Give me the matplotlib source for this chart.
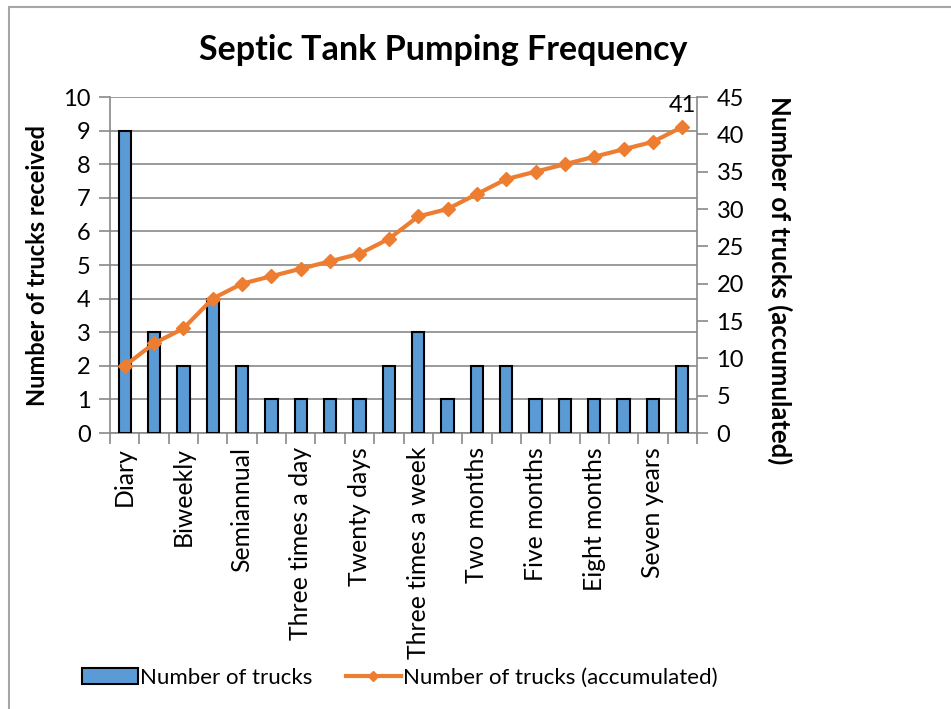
import numpy as np
import matplotlib
matplotlib.use("Agg")
import matplotlib.pyplot as plt
from matplotlib.patches import Rectangle
from matplotlib.lines import Line2D

# -------- data ----------
counts = [9, 3, 2, 4, 2, 1, 1, 1, 1, 2, 3, 1, 2, 2, 1, 1, 1, 1, 1, 2]
shown_labels = ["Diary", "Biweekly", "Semiannual", "Three times a day",
                "Twenty days", "Three times a week", "Two months",
                "Five months", "Eight months", "Seven years"]
left_ticks = list(range(0, 11))
right_ticks = list(range(0, 46, 5))

BLUE = "#5B9BD5"
ORANGE = "#ED7D31"
GRID = "#898989"

plt.rcParams["font.family"] = ["Lato", "DejaVu Sans"]

x = np.arange(len(counts))
accum = np.cumsum(counts)

fig = plt.figure(figsize=(9.51, 7.09), dpi=100)

# light frame around the chart area
fig.patches.append(Rectangle((9 / 951, -0.1), 1.2, 1.1 - 7 / 709, transform=fig.transFigure,
                             fill=False, edgecolor="#A6A6A6", linewidth=1.5))

ax = fig.add_axes([110 / 951, 1 - 433 / 709, 587 / 951, 336 / 709])
ax.bar(x, counts, width=0.42, color=BLUE, edgecolor="black", linewidth=1.5, zorder=3)
ax.set_xlim(-0.5, len(counts) - 0.5)
ax.set_ylim(0, 10)
ax.set_yticks(left_ticks)
ax.yaxis.grid(True, color=GRID, linewidth=1.2, zorder=0)
ax.set_axisbelow(True)

# category boundaries get the tick marks, every other category gets a label
ax.set_xticks(np.arange(-0.5, len(counts), 1), minor=False)
ax.set_xticklabels([])
ax.set_xticks(x[::2], minor=True)
ax.set_xticklabels(shown_labels, minor=True, rotation=90, ha="center", va="top", fontsize=17.8)
ax.tick_params(axis="x", which="major", length=8, color=GRID, width=1.2, direction="out")
ax.tick_params(axis="x", which="minor", length=0, pad=10)
ax.tick_params(axis="y", length=8, color=GRID, width=1.2, labelsize=17, pad=6)

for s in ["top", "right"]:
    ax.spines[s].set_visible(False)
for s in ["left", "bottom"]:
    ax.spines[s].set_color(GRID)
    ax.spines[s].set_linewidth(1.2)
ax.set_ylabel("Number of trucks received", fontsize=17, fontweight="bold", labelpad=10)

ax2 = ax.twinx()
ax2.plot(x, accum, color=ORANGE, linewidth=3, marker="D", markersize=7, zorder=4)
ax2.set_ylim(0, 45)
ax2.set_yticks(right_ticks)
ax2.tick_params(axis="y", length=8, color=GRID, width=1.2, labelsize=17, pad=6)
for s in ["top", "left", "bottom"]:
    ax2.spines[s].set_visible(False)
ax2.spines["right"].set_color(GRID)
ax2.spines["right"].set_linewidth(1.2)
ax2.set_ylabel("Number of trucks (accumulated)", fontsize=18.5, fontweight="bold",
               rotation=270, va="center")
ax2.yaxis.set_label_coords(1.141, 0.455)
ax2.annotate(str(accum[-1]), (x[-1], accum[-1]), xytext=(0, 8), textcoords="offset points",
             ha="center", va="bottom", fontsize=17)

fig.suptitle("Septic Tank Pumping Frequency", x=443 / 951, y=1 - 50 / 709, va="center",
             fontsize=24.5, fontweight="bold")

handles = [Rectangle((0, 0), 1, 1, facecolor=BLUE, edgecolor="black", linewidth=1.5),
           Line2D([], [], color=ORANGE, linewidth=3, marker="D", markersize=5)]
fig.legend(handles, ["Number of trucks", "Number of trucks (accumulated)"],
           loc="center", bbox_to_anchor=(400 / 951, 1 - 678 / 709), ncol=2, frameon=False,
           fontsize=16, handlelength=2.5, handletextpad=0.1, columnspacing=1.5)

fig.savefig("out.png", dpi=100)
